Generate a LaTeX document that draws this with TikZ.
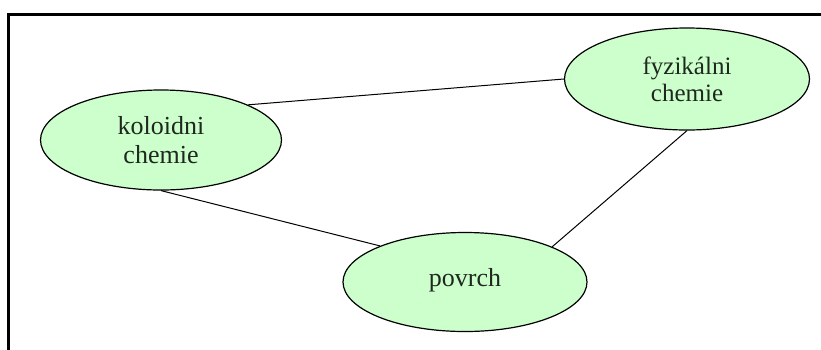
\documentclass[tikz,border=0pt]{standalone}
\usepackage{fontspec}
\setmainfont{Liberation Serif}
\usetikzlibrary{shapes.geometric}
\definecolor{topicfill}{RGB}{204,255,204}
\definecolor{topictext}{RGB}{30,40,30}
\tikzset{
  topic/.style={ellipse, draw=black, line width=1.2pt, fill=topicfill,
    inner sep=0pt, align=center, text=topictext},
  link/.style={draw=black, line width=1pt},
  frameline/.style={draw=black, line width=3pt}
}
\begin{document}
\begin{tikzpicture}[x=1pt,y=-1pt]
  \useasboundingbox (0,0) rectangle (821,349);
  \fill[white] (0,0) rectangle (821,349);
  % open frame along the left and top edges
  \draw[frameline] (8,350) -- (8,14) -- (822,14);
  % topics
  \node[topic, minimum width=241pt, minimum height=100pt,
        font=\fontsize{26}{29}\selectfont] (kol) at (161,140) {koloidni\\chemie};
  \node[topic, minimum width=245pt, minimum height=102pt,
        font=\fontsize{25}{27}\selectfont] (fyz) at (687,79) {fyzikálni\\chemie};
  \node[topic, minimum width=244pt, minimum height=99pt,
        font=\fontsize{26}{28}\selectfont] (pov) at (465,282) {\raisebox{10pt}{povrch}};
  % links between topics
  \draw[link] (kol.22) -- (fyz.west);
  \draw[link] (kol.south) -- (pov.157);
  \draw[link] (fyz.south) -- (pov.22);
\end{tikzpicture}
\end{document}
